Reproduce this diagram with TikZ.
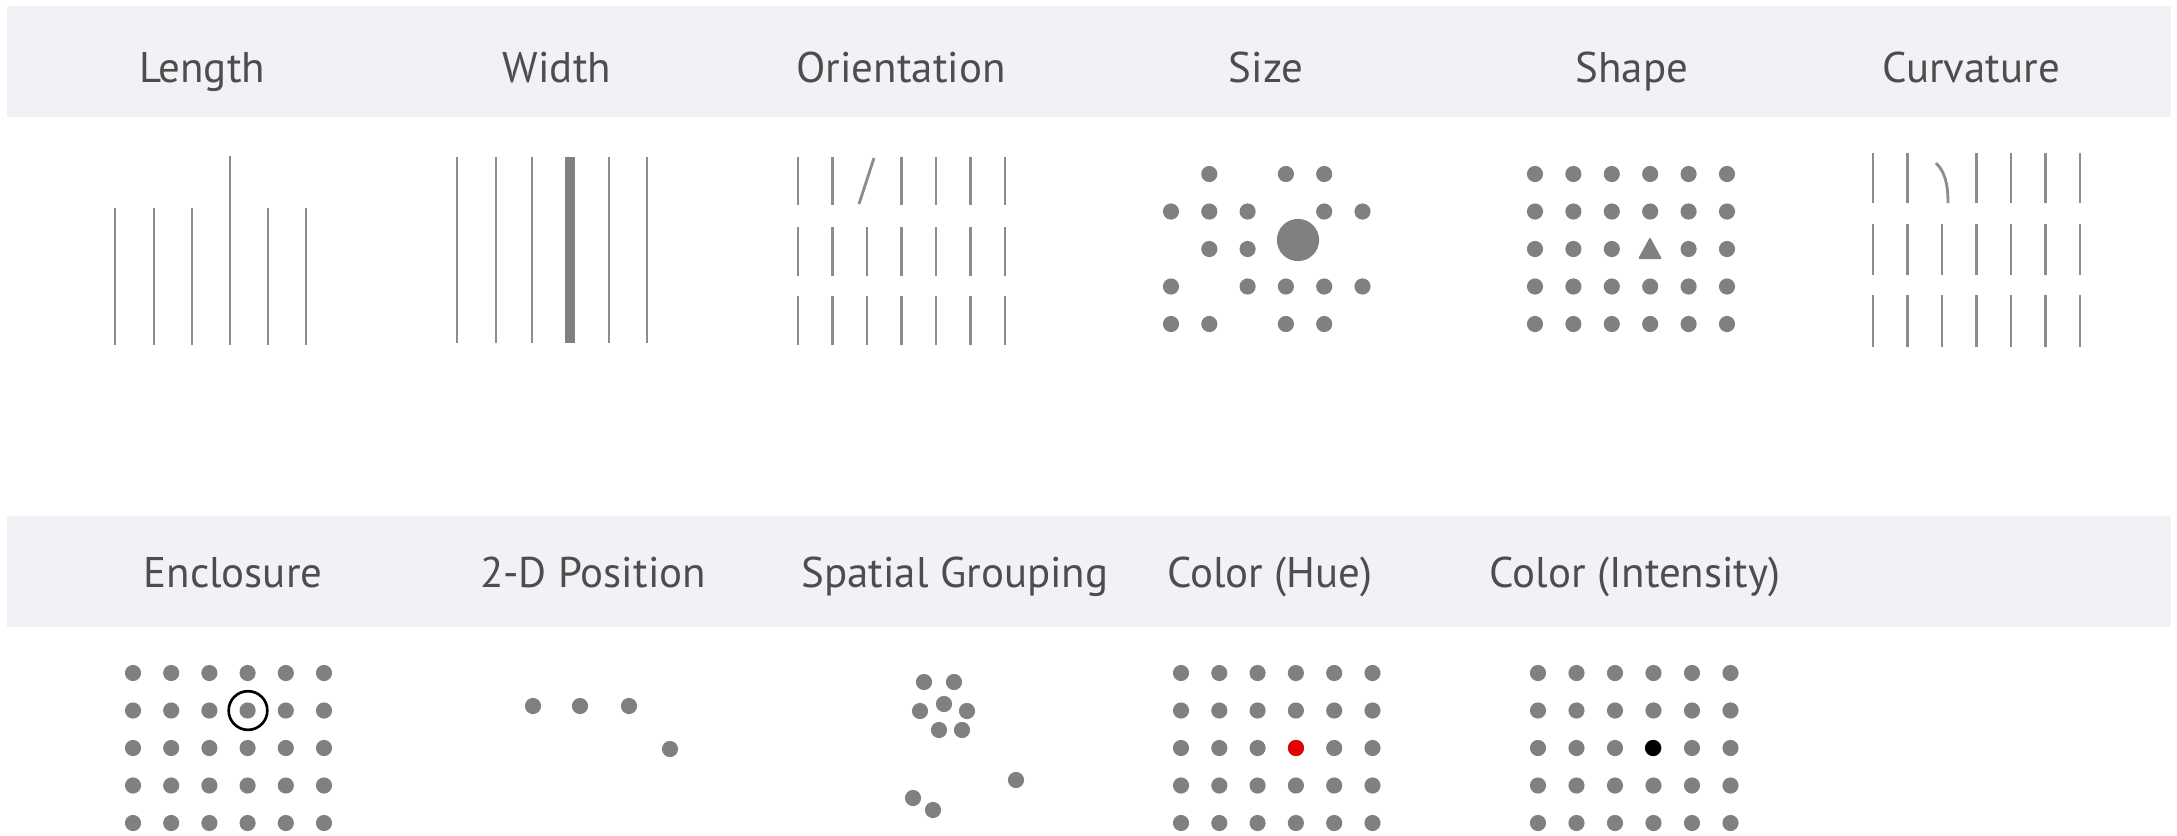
\documentclass[tikz,border=0pt]{standalone}
\usepackage{fontspec}
\setmainfont{PT Sans}
\definecolor{bandgray}{HTML}{F2F2F6}
\definecolor{markgray}{HTML}{808080}
\definecolor{bargray}{HTML}{8C8C8C}
\definecolor{labelgray}{HTML}{4D4D4D}
\tikzset{
  title/.style={anchor=base, inner sep=0pt, text=labelgray, font=\fontsize{12.2}{14}\selectfont},
  bar/.style={draw=bargray, line width=0.8pt},
  dot/.style={fill=markgray},
}

\begin{document}
\begin{tikzpicture}[x=0.01cm, y=-0.01cm]
  \useasboundingbox (0,0) rectangle (2177,835);
  % header bands
  \fill[bandgray] (7,6) rectangle (2171,117);
  \fill[bandgray] (7,516) rectangle (2171,627);

  % titles, first row
  \node[title] (length) at (202,82) {Length};
  \node[title] (width) at (557,82) {Width};
  \node[title] (orient) at (901,82) {Orientation};
  \node[title] (size) at (1266,82) {Size};
  \node[title] (shape) at (1632,82) {Shape};
  \node[title] (curv) at (1971,82) {Curvature};
  % titles, second row
  \node[title] (encl) at (233,587) {Enclosure};
  \node[title] (pos) at (593,587) {2-D Position};
  \node[title] (group) at (955,587) {Spatial Grouping};
  \node[title] (hue) at (1270,587) {Color (Hue)};
  \node[title] (intens) at (1635,587) {Color (Intensity)};

  % length
  \foreach \x in {115,154,192,268,306}
    \draw[bar] (\x,208) -- (\x,345);
  \draw[bar] (230,156) -- (230,345);

  % width
  \foreach \x in {457,496,532,609,647}
    \draw[bar] (\x,157) -- (\x,343);
  \draw[bar, draw=markgray, line width=2.6pt] (570,157) -- (570,343);

  % orientation
  \foreach \a/\b in {157/205,227/276,296/345}
    \foreach \i in {0,...,6} {
      \ifnum\i=2 \ifnum\a=157 \else
        \draw[bar] (798+34.5*\i,\a) -- (798+34.5*\i,\b);
      \fi \else
        \draw[bar] (798+34.5*\i,\a) -- (798+34.5*\i,\b);
      \fi
    }
  \draw[bar] (874,158) -- (859,204);

  % size
  \foreach \c/\r in {1/0,3/0,4/0,0/1,1/1,2/1,4/1,5/1,1/2,2/2,
                     0/3,2/3,3/3,4/3,5/3,0/4,1/4,3/4,4/4}
    \fill[dot] (1171+38.3*\c,174+37.5*\r) circle[radius=2.3pt];
  \fill[dot] (1298,240) circle[radius=6pt];

  % shape
  \foreach \c in {0,...,5}
    \foreach \r in {0,...,4} {
      \ifnum\c=3 \ifnum\r=2 \else
        \fill[dot] (1535+38.4*\c,174+37.5*\r) circle[radius=2.3pt];
      \fi \else
        \fill[dot] (1535+38.4*\c,174+37.5*\r) circle[radius=2.3pt];
      \fi
    }
  \fill[dot, rounded corners=0.4pt] (1650,237) -- (1662,259) -- (1638,259) -- cycle;

  % curvature
  \foreach \a/\b in {153/203,224/275,295/347}
    \foreach \i in {0,...,6} {
      \ifnum\i=2 \ifnum\a=153 \else
        \draw[bar] (1873+34.5*\i,\a) -- (1873+34.5*\i,\b);
      \fi \else
        \draw[bar] (1873+34.5*\i,\a) -- (1873+34.5*\i,\b);
      \fi
    }
  \draw[bar] (1936,163) .. controls (1945,172) and (1948,184) .. (1948,203);

  % enclosure
  \foreach \c in {0,...,5}
    \foreach \r in {0,...,4}
      \fill[dot] (133+38.2*\c,673+37.5*\r) circle[radius=2.3pt];
  \draw[line width=0.75pt] (248,710.5) circle[radius=5.5pt];

  % 2-d position
  \foreach \x/\y in {533/706,580/706,629/706,670/749}
    \fill[dot] (\x,\y) circle[radius=2.3pt];

  % spatial grouping
  \foreach \x/\y in {924/682,954/682,920/711,944/704,967/711,
                     939/730,962/730,1016/780,913/798,933/810}
    \fill[dot] (\x,\y) circle[radius=2.3pt];

  % color (hue)
  \foreach \c in {0,...,5}
    \foreach \r in {0,...,4}
      \fill[dot] (1181+38.3*\c,673+37.5*\r) circle[radius=2.3pt];
  \fill[red!90!black] (1296,748) circle[radius=2.3pt];

  % color (intensity)
  \foreach \c in {0,...,5}
    \foreach \r in {0,...,4}
      \fill[dot] (1538+38.5*\c,673+37.5*\r) circle[radius=2.3pt];
  \fill[black] (1653,748) circle[radius=2.3pt];
\end{tikzpicture}
\end{document}
